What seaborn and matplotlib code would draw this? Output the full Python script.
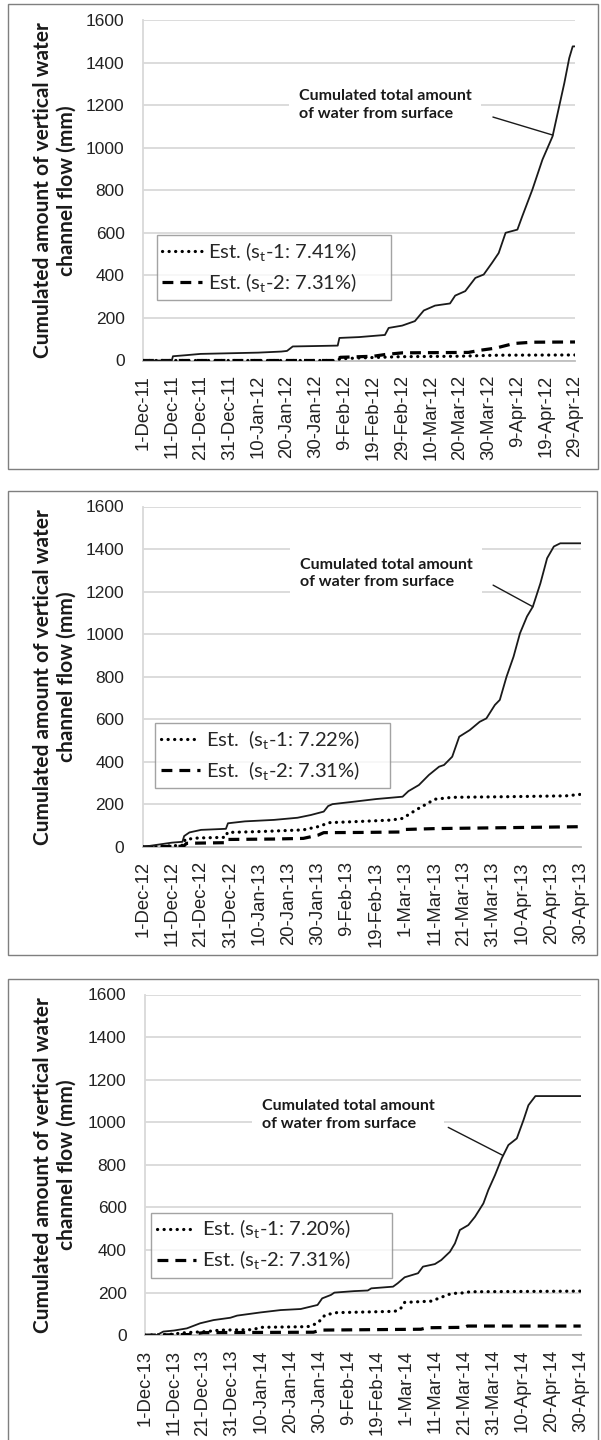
import numpy as np
import matplotlib
matplotlib.use("Agg")
import matplotlib.pyplot as plt
import seaborn as sns
from matplotlib.patches import Rectangle

# ---------------- data ----------------
# x positions are days after 1 December of each winter season
tick_days = list(range(0, 151, 10))

ticks_2011 = ["1-Dec-11", "11-Dec-11", "21-Dec-11", "31-Dec-11", "10-Jan-12", "20-Jan-12",
              "30-Jan-12", "9-Feb-12", "19-Feb-12", "29-Feb-12", "10-Mar-12", "20-Mar-12",
              "30-Mar-12", "9-Apr-12", "19-Apr-12", "29-Apr-12"]
ticks_2012 = ["1-Dec-12", "11-Dec-12", "21-Dec-12", "31-Dec-12", "10-Jan-13", "20-Jan-13",
              "30-Jan-13", "9-Feb-13", "19-Feb-13", "1-Mar-13", "11-Mar-13", "21-Mar-13",
              "31-Mar-13", "10-Apr-13", "20-Apr-13", "30-Apr-13"]
ticks_2013 = ["1-Dec-13", "11-Dec-13", "21-Dec-13", "31-Dec-13", "10-Jan-14", "20-Jan-14",
              "30-Jan-14", "9-Feb-14", "19-Feb-14", "1-Mar-14", "11-Mar-14", "21-Mar-14",
              "31-Mar-14", "10-Apr-14", "20-Apr-14", "30-Apr-14"]

# 2011-12: cumulated total water from surface (mm)
total_2011_day = [0, 10, 10.4, 15, 20, 30, 40, 48, 50, 52, 60, 67.6, 68.2, 75, 84, 85.3, 90,
                  94.4, 97.5, 101.4, 106.6, 108.4, 111.9, 115.4, 118.3, 121.2, 123.5, 125.9,
                  130, 131.7, 135.2, 138.7, 142.2, 144.5, 146.3, 148, 149.2, 150]
total_2011_mm = [0, 0, 20, 25, 31, 34, 37, 42, 45, 66, 68, 70, 106, 110, 120, 153, 164,
                 185, 235, 258, 268, 305, 326, 388, 404, 459, 505, 600,
                 615, 678, 803, 944, 1053, 1194, 1304, 1421, 1476, 1476]
est1_2011_day = [0, 67, 68.5, 75, 85, 90, 110, 120, 125, 150]
est1_2011_mm = [0, 0, 8, 12, 16, 18, 20, 24, 25, 26]
est2_2011_day = [0, 67, 68.5, 80, 84, 90, 113, 117, 122.4, 128.8, 135.2, 150]
est2_2011_mm = [0, 0, 15, 20, 28, 36, 38, 48, 58, 80, 86, 87]

# 2012-13
total_2012_day = [0, 10, 13.6, 14.2, 16, 20, 28.5, 29.2, 35, 45, 53, 57.6, 62, 63.5, 65, 72,
                  80, 89, 91, 94.6, 98, 101.5, 103.2, 106, 108.4, 112, 115.4, 117.7, 120.6,
                  122.3, 124.6, 127, 129.2, 131.6, 133.6, 136.2, 138.5, 140.8, 143, 150]
total_2012_mm = [0, 20, 24, 51, 68, 80, 85, 111, 120, 127, 137, 150, 166, 192, 201, 212,
                 225, 236, 262, 291, 338, 377, 385, 424, 518, 549, 588, 604, 667,
                 691, 800, 894, 1004, 1083, 1129, 1239, 1357, 1412, 1427, 1427]
est1_2012_day = [0, 10, 14, 14.5, 19, 28.5, 29, 40, 55, 60, 64, 75, 85, 89, 92, 95, 97, 100,
                 106, 125, 145, 150]
est1_2012_mm = [0, 5, 8, 35, 42, 45, 68, 72, 80, 95, 114, 120, 126, 134, 160, 185, 200, 224,
                233, 236, 240, 247]
est2_2012_day = [0, 14, 15, 29, 29.3, 45, 55, 60, 62, 75, 88, 90, 100, 150]
est2_2012_mm = [0, 3, 17, 20, 35, 37, 40, 55, 67, 68, 70, 82, 86, 95]

# 2013-14
total_2013_day = [0, 4, 6.3, 10, 14.4, 19, 23.6, 29.4, 31.7, 39.8, 46.7, 53.6, 59.4, 61, 64,
                  65.2, 72, 76.7, 77.9, 85.4, 87, 89.4, 94, 95.7, 99.8, 102, 105, 106.7,
                  108.4, 111.3, 113.6, 116.5, 118.2, 120.5, 122.8, 125.1, 128, 130.3, 132,
                  134.4, 150]
total_2013_mm = [0, 0, 17, 22, 32, 56, 71, 82, 92, 107, 118, 123, 142, 173, 189,
                 200, 207, 210, 220, 228, 244, 272, 291, 322, 334, 353, 392, 431,
                 494, 517, 556, 619, 682, 752, 830, 893, 924, 1010, 1080,
                 1123, 1123]
est1_2013_day = [0, 8, 14, 21, 26, 37, 40, 56, 59.4, 62, 66, 86, 88, 89.4, 98.6, 102, 105.5,
                 109, 112, 150]
est1_2013_mm = [0, 3, 12, 17, 24, 26, 37, 40, 56, 95, 106, 112, 125, 154, 160, 178, 196,
                198, 204, 207]
est2_2013_day = [0, 15, 20, 58, 60.5, 95, 97, 110, 111, 150]
est2_2013_mm = [0, 3, 12, 14, 24, 28, 35, 37, 43, 43]

legend_2011 = [r"Est. (s$_\mathregular{t}$-1: 7.41%)", r"Est. (s$_\mathregular{t}$-2: 7.31%)"]
legend_2012 = [r"Est.  (s$_\mathregular{t}$-1: 7.22%)", r"Est.  (s$_\mathregular{t}$-2: 7.31%)"]
legend_2013 = [r"Est. (s$_\mathregular{t}$-1: 7.20%)", r"Est. (s$_\mathregular{t}$-2: 7.31%)"]

y_label = "Cumulated amount of vertical water\nchannel flow (mm)"
note = "Cumulated total amount\nof water from surface"

# ---------------- style ----------------
sns.set_style("white")
plt.rcParams["font.family"] = ["Lato", "DejaVu Sans"]
plt.rcParams["mathtext.fontset"] = "custom"
plt.rcParams["mathtext.rm"] = "Lato"

W, H = 601, 1440
fig = plt.figure(figsize=(W / 100, H / 100), dpi=100)
fig.patch.set_facecolor("white")

GRID = "#d9d9d9"
AXIS = "#bfbfbf"
YTICKFONT = dict(family="Liberation Sans", size=12.5, color="#222222")
XTICKFONT = dict(family="Liberation Sans", size=13.3, color="#222222")


def px_axes(left, right, top, bottom):
    return fig.add_axes([left / W, 1 - bottom / H, (right - left) / W, (bottom - top) / H])


def frame(left, right, top, bottom):
    fig.patches.append(Rectangle((left / W, 1 - bottom / H), (right - left) / W,
                                 (bottom - top) / H, transform=fig.transFigure,
                                 fill=False, ec="#7f7f7f", lw=1.0, zorder=0))


panels = [
    dict(box=(143, 575, 20, 360.5), frame=(7.5, 598, 4, 469),
         ticks=ticks_2011, total=(total_2011_day, total_2011_mm),
         est1=(est1_2011_day, est1_2011_mm), est2=(est2_2011_day, est2_2011_mm),
         legend=legend_2011, leg_box=(0.032, 0.369, 0.542),
         note_xy=(0.361, 0.750), line_from=(0.810, 0.715), line_day=142.3),
    dict(box=(142.7, 580.7, 506.5, 846.9), frame=(7.5, 597, 490.7, 955),
         ticks=ticks_2012, total=(total_2012_day, total_2012_mm),
         est1=(est1_2012_day, est1_2012_mm), est2=(est2_2012_day, est2_2012_mm),
         legend=legend_2012, leg_box=(0.028, 0.365, 0.537),
         note_xy=(0.359, 0.803), line_from=(0.800, 0.769), line_day=133.6),
    dict(box=(145, 580.7, 994.5, 1335.2), frame=(7.5, 598, 979.3, 1460),
         ticks=ticks_2013, total=(total_2013_day, total_2013_mm),
         est1=(est1_2013_day, est1_2013_mm), est2=(est2_2013_day, est2_2013_mm),
         legend=legend_2013, leg_box=(0.014, 0.360, 0.552),
         note_xy=(0.268, 0.646), line_from=(0.696, 0.610), line_day=123.3),
]

for p in panels:
    frame(*p["frame"])
    ax = px_axes(*p["box"])
    ax.set_facecolor("none")

    sns.lineplot(x=p["total"][0], y=p["total"][1], ax=ax, color="#1a1a1a", lw=1.3,
                 legend=False, zorder=4)
    sns.lineplot(x=p["est1"][0], y=p["est1"][1], ax=ax, color="#000000", lw=2.3,
                 legend=False, zorder=3)
    sns.lineplot(x=p["est2"][0], y=p["est2"][1], ax=ax, color="#000000", lw=2.3,
                 legend=False, zorder=3)
    l_tot, l_e1, l_e2 = ax.lines[:3]
    l_e1.set_linestyle((0, (0.05, 2.0)))
    l_e1.set_dash_capstyle("round")
    l_e2.set_linestyle((0, (3.4, 2.2)))
    l_e2.set_dash_capstyle("butt")

    ax.set_xlim(0, 150)
    ax.set_ylim(0, 1600)
    ax.set_yticks(range(0, 1601, 200))
    ax.set_yticklabels([str(v) for v in range(0, 1601, 200)], **YTICKFONT)
    ax.set_xticks(tick_days)
    ax.set_xticklabels(p["ticks"], rotation=90, **XTICKFONT)
    ax.grid(axis="y", color=GRID, lw=1.3, zorder=0)
    ax.grid(axis="x", visible=False)
    ax.set_axisbelow(True)
    for side in ("top", "right"):
        ax.spines[side].set_visible(False)
    ax.spines["left"].set_color(GRID)
    ax.spines["left"].set_linewidth(1.3)
    ax.spines["bottom"].set_color(AXIS)
    ax.spines["bottom"].set_linewidth(1.3)
    ax.tick_params(axis="y", direction="out", length=4.3, width=1.3, color=GRID, pad=9)
    ax.tick_params(axis="x", direction="out", length=4.3, width=1.3, color=AXIS, pad=6)
    ax.set_xlabel("")
    ax.set_ylabel("")

    # axis title, two centred lines
    b = p["box"]
    fig.text(55 / W, 1 - ((b[2] + b[3]) / 2) / H, y_label, rotation=90, ha="center",
             va="center", fontsize=15, fontweight="bold", linespacing=1.2,
             color="#1a1a1a")

    lx, ly, lw = p["leg_box"]
    leg = ax.legend([l_e1, l_e2], p["legend"], loc="upper left",
                    bbox_to_anchor=(lx, ly - 0.2, lw, 0.2), mode="expand",
                    borderaxespad=0, fontsize=14.5, frameon=True, fancybox=False,
                    edgecolor="#8c8c8c", handlelength=1.95, handletextpad=0.3,
                    labelspacing=0.38, borderpad=0.28)
    leg.get_frame().set_linewidth(1.0)
    leg.set_zorder(6)

    ax.text(*p["note_xy"], note, transform=ax.transAxes, ha="left", va="center",
            fontsize=11.5, fontweight="bold", color="#1a1a1a", linespacing=1.3, zorder=5,
            bbox=dict(boxstyle="square,pad=0.6", fc="white", ec="none"))
    end_y = float(np.interp(p["line_day"], p["total"][0], p["total"][1]))
    ax.annotate("", xy=(p["line_day"], end_y), xycoords="data",
                xytext=p["line_from"], textcoords="axes fraction",
                arrowprops=dict(arrowstyle="-", color="#1a1a1a", lw=1.0,
                                shrinkA=0, shrinkB=0), zorder=5)

fig.savefig("out.png", dpi=100, facecolor="white")
